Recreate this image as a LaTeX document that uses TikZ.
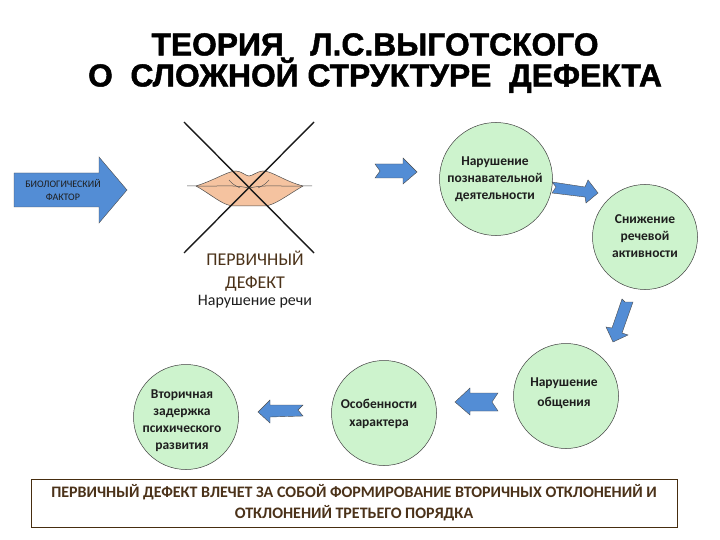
\documentclass[tikz,border=0pt]{standalone}
\usepackage{fontspec}
\setmainfont{Carlito}
\newfontfamily\titlefont[BoldFeatures={FakeBold=1.5}]{Liberation Sans}
\usetikzlibrary{calc}
\definecolor{circfill}{RGB}{205,243,205}
\definecolor{arrfill}{RGB}{83,141,213}
\definecolor{liptone}{RGB}{245,195,160}
\definecolor{txt}{RGB}{30,30,30}
\definecolor{brn}{RGB}{75,50,25}
\definecolor{boxline}{RGB}{70,45,15}
\tikzset{
  x=1pt,y=-1pt,
  circ/.style={circle,draw=black!75,line width=.5pt,fill=circfill,minimum size=#1,inner sep=0pt},
  circtext/.style={align=center,inner sep=0pt,text=txt,font=\bfseries\fontsize{13.5}{17}\selectfont},
  arr/.style={draw=black!70,line width=.4pt,fill=arrfill},
  cross/.style={line width=1.4pt,black!90},
  lab/.style={align=center,inner sep=0pt,text=txt},
}
\begin{document}
\begin{tikzpicture}
\useasboundingbox (0,0) rectangle (720,540);
\fill[white] (0,0) rectangle (720,540);
\node[lab,font=\titlefont\bfseries\fontsize{31.8}{31}\selectfont,text=black] (title) at (375,63) {ТЕОРИЯ \ \ Л.С.ВЫГОТСКОГО\\О \ СЛОЖНОЙ СТРУКТУРЕ \ ДЕФЕКТА};
% biological factor arrow
\draw[arr] (14,173) -- (99,173) -- (99,157) -- (127,190) -- (99,223) -- (99,207) -- (14,207) -- cycle;
\node[lab,font=\fontsize{10}{13}\selectfont] (bio) at (63,190) {БИОЛОГИЧЕСКИЙ\\ФАКТОР};
% lips
\fill[liptone] (196,186) .. controls (215,180) and (228,171) .. (236,171) .. controls (241,171) and (246,176) .. (249,176) .. controls (252,176) and (258,171) .. (263,171) .. controls (272,171) and (284,181) .. (303,186) .. controls (286,196) and (275,205) .. (265,206) -- (233,206) .. controls (222,205) and (212,195) .. (196,186) -- cycle;
\draw[black!70,line width=.5pt] (187,186) -- (196,186) .. controls (215,180) and (228,171) .. (236,171) .. controls (241,171) and (246,176) .. (249,176) .. controls (252,176) and (258,171) .. (263,171) .. controls (272,171) and (284,181) .. (303,186) -- (312,186);
\draw[black!70,line width=.5pt] (196,186) .. controls (212,195) and (222,205) .. (233,206) -- (265,206) .. controls (275,205) and (286,196) .. (303,186);
\draw[black!70,line width=.5pt] (196,186) .. controls (215,187) and (230,184) .. (249,188) .. controls (268,184) and (283,187) .. (303,186);
\draw[black!70,line width=.4pt] (229,180) .. controls (232,184) and (236,186) .. (240,188);
\draw[black!70,line width=.4pt] (269,180) .. controls (266,184) and (262,186) .. (258,188);
\coordinate (c1a) at (184,122); \coordinate (c1b) at (314,253);
\coordinate (c2a) at (314,122); \coordinate (c2b) at (184,253);
\draw[cross] (c1a) -- (c1b);
\draw[cross] (c2a) -- (c2b);
% primary defect
\node[lab,font=\fontsize{18}{23}\selectfont,text=brn] (prim) at (255,271) {ПЕРВИЧНЫЙ\\ДЕФЕКТ};
\node[lab,font=\fontsize{16}{18}\selectfont] (speech) at (255,302) {Нарушение речи};
% circles
\node[circ=113] (c1) at (496,179) {};
\node[circtext] (c1t) at (495,179) {Нарушение\\познавательной\\деятельности};
\node[circ=105] (c2) at (645,237) {};
\node[circtext] (c2t) at (645,236) {Снижение\\речевой\\активности};
\node[circ=105] (c3) at (566,396) {};
\node[circtext,font=\bfseries\fontsize{13.5}{20}\selectfont] (c3t) at (564,393) {Нарушение\\общения};
\node[circ=105] (c4) at (384,413) {};
\node[circtext,font=\bfseries\fontsize{13.5}{18}\selectfont] (c4t) at (379,414) {Особенности\\характера};
\node[circ=105] (c5) at (186,417) {};
\node[circtext] (c5t) at (182,421) {Вторичная\\задержка\\психического\\развития};
% block arrows
\draw[arr] (375,164) -- (403,164) -- (403,158) -- (417,172) -- (403,184) -- (403,178) -- (375,178) -- (380,171) -- cycle;
\draw[arr] (552,182) -- (585,187) -- (588,180) -- (598,193) -- (586,203) -- (585,197) -- (552,193) -- (556,187) -- cycle;
\draw[arr] (625,302) -- (633,302) -- (622,333) -- (628,335) -- (613,342) -- (606,327) -- (612,328) -- (622,299) -- cycle;
\draw[arr] (498,393) -- (470,393) -- (470,388) -- (455,402) -- (470,415) -- (470,411) -- (498,411) -- (492,402) -- cycle;
\draw[arr] (303,405) -- (270,405) -- (270,400) -- (258,412) -- (270,423) -- (270,417) -- (303,416) -- (298,410) -- cycle;
% bottom box
\node[draw=boxline,line width=.6pt,fill=white,minimum width=646,minimum height=48,inner sep=0pt,lab,text=brn,font=\bfseries\fontsize{16}{21}\selectfont] (box) at (354,503) {ПЕРВИЧНЫЙ ДЕФЕКТ ВЛЕЧЕТ ЗА СОБОЙ ФОРМИРОВАНИЕ ВТОРИЧНЫХ ОТКЛОНЕНИЙ И\\ОТКЛОНЕНИЙ ТРЕТЬЕГО ПОРЯДКА};
\end{tikzpicture}
\end{document}
